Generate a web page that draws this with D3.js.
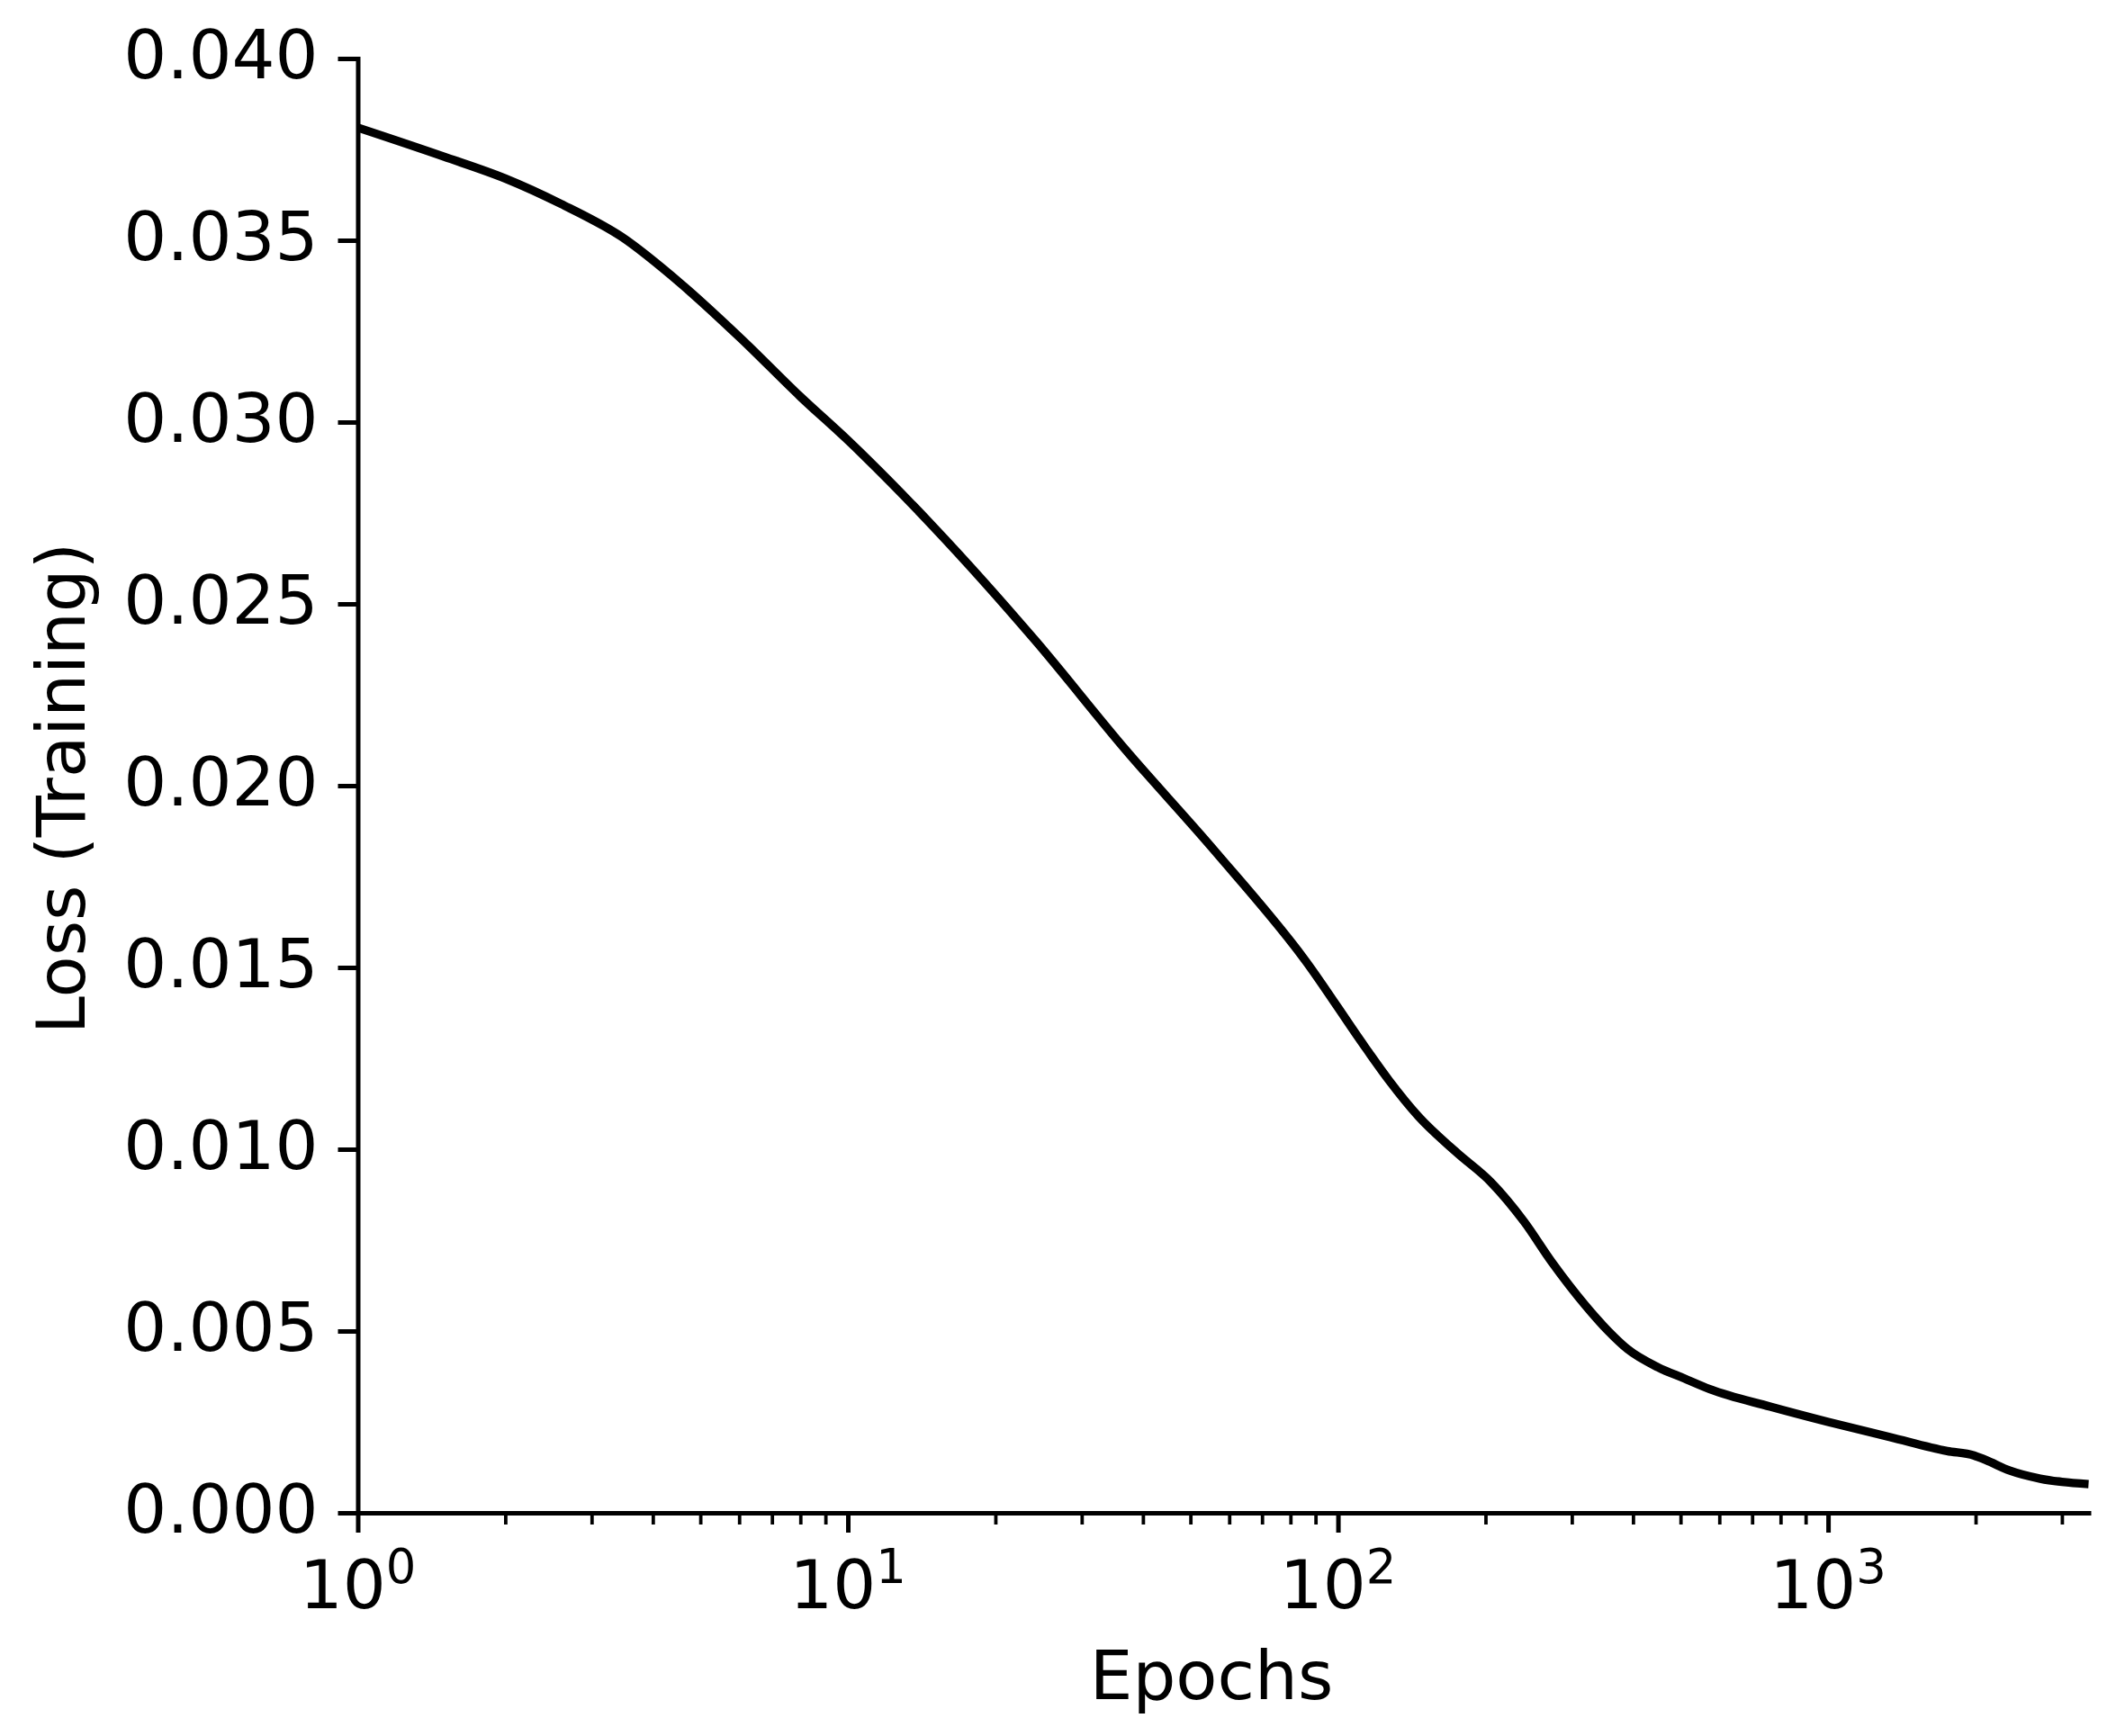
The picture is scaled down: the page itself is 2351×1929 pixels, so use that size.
<!DOCTYPE html>
<html>
<head>
<meta charset="utf-8">
<script src="https://cdn.jsdelivr.net/npm/d3@7"></script>
<style>
  html, body { margin: 0; padding: 0; background: #ffffff; }
  svg { display: block; }
  text { font-family: "DejaVu Sans", sans-serif; fill: #000; }
</style>
</head>
<body>
<svg id="chart" width="2351" height="1929"></svg>
<script>
// ---- data ----
const epochs = [1, 1.5, 2, 2.6, 3.45, 4.57, 6.05, 8, 10, 15, 24.1, 36.8, 56.1, 85.7, 113.7, 127,
                146, 175, 205, 240, 273, 320, 356, 390, 450, 508, 574, 762, 1000, 1340, 1750,
                1983, 2100, 2350, 2710, 3000, 3400];
const loss   = [0.0381, 0.0373, 0.0367, 0.0360, 0.0351, 0.0338, 0.0323, 0.0307, 0.0295, 0.0271,
                0.0240, 0.0210, 0.0182, 0.0152, 0.0128, 0.0119, 0.0109, 0.0099, 0.0091, 0.0080,
                0.0069, 0.0057, 0.0050, 0.0045, 0.0040, 0.0037, 0.0034, 0.00292, 0.0025, 0.00208,
                0.00170, 0.00158, 0.00145, 0.00116, 0.00094, 0.00085, 0.00079];
const yTicks = [0.000, 0.005, 0.010, 0.015, 0.020, 0.025, 0.030, 0.035, 0.040];
const xMajorTicks = [1, 10, 100, 1000];
const xMajorExp = ["0", "1", "2", "3"];
const xMinorTicks = [2,3,4,5,6,7,8,9, 20,30,40,50,60,70,80,90, 200,300,400,500,600,700,800,900, 2000,3000];
const xLabel = "Epochs";
const yLabel = "Loss (Training)";
const xDomain = [1, 3400];
const yDomain = [0, 0.04];

(function () {
// ---- layout ----
const mLeft = 397.5, mRight = 2320.5, mTop = 65, mBottom = 1681;
const fontSize = 75.5, supSize = 52.8;
const svg = d3.select("#chart");

const x = d3.scaleLog().domain(xDomain).range([mLeft, mRight]);
const y = d3.scaleLinear().domain(yDomain).range([mBottom, mTop]);

// y axis
const yAxis = d3.axisLeft(y).tickValues(yTicks).tickFormat("").tickSize(22).tickSizeOuter(0);
const gy = svg.append("g").attr("transform", `translate(${mLeft},0)`).call(yAxis);
gy.select(".domain").attr("stroke", "#000").attr("stroke-width", 5).attr("stroke-linecap", "square");
gy.selectAll(".tick line").attr("stroke", "#000").attr("stroke-width", 5);
svg.append("g").selectAll("text").data(yTicks).join("text")
  .attr("x", mLeft - 22 - 22)
  .attr("y", d => y(d) + 22)
  .attr("text-anchor", "end")
  .attr("font-size", fontSize)
  .text(d => d3.format(".3f")(d));

// x axis major
const xAxis = d3.axisBottom(x).tickValues(xMajorTicks).tickFormat("").tickSize(22).tickSizeOuter(0);
const gx = svg.append("g").attr("transform", `translate(0,${mBottom})`).call(xAxis);
gx.select(".domain").attr("stroke", "#000").attr("stroke-width", 5).attr("stroke-linecap", "square");
gx.selectAll(".tick line").attr("stroke", "#000").attr("stroke-width", 5);
// x axis minor
const xAxisMinor = d3.axisBottom(x).tickValues(xMinorTicks).tickFormat("").tickSize(13).tickSizeOuter(0);
const gxm = svg.append("g").attr("transform", `translate(0,${mBottom})`).call(xAxisMinor);
gxm.select(".domain").remove();
gxm.selectAll(".tick line").attr("stroke", "#000").attr("stroke-width", 3.8);

// x tick labels 10^n
const xl = svg.append("g").selectAll("text").data(xMajorTicks).join("text")
  .attr("x", d => x(d))
  .attr("y", 1787)
  .attr("text-anchor", "middle")
  .attr("font-size", fontSize);
xl.append("tspan").text("10");
xl.append("tspan").attr("font-size", supSize).attr("dy", -28).text((d, i) => xMajorExp[i]);

// axis labels
svg.append("text")
  .attr("x", 1346).attr("y", 1888)
  .attr("text-anchor", "middle")
  .attr("font-size", fontSize)
  .text(xLabel);
svg.append("text")
  .attr("transform", `translate(94,876) rotate(-90)`)
  .attr("text-anchor", "middle")
  .attr("font-size", fontSize)
  .text(yLabel);

// line
const pts = epochs.map((e, i) => [e, loss[i]]);
const line = d3.line().x(d => x(d[0])).y(d => y(d[1])).curve(d3.curveMonotoneX);
svg.append("path")
  .datum(pts)
  .attr("d", line)
  .attr("fill", "none")
  .attr("stroke", "#000")
  .attr("stroke-width", 9.4)
  .attr("stroke-linejoin", "round")
  .attr("stroke-linecap", "butt");
})();
</script>
</body>
</html>
